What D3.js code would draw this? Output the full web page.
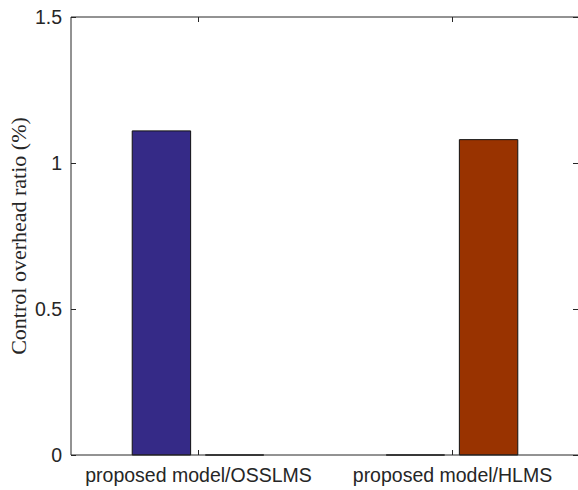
<!DOCTYPE html>
<html>
<head>
<meta charset="utf-8">
<script src="https://cdn.jsdelivr.net/npm/d3@7"></script>
<style>
  html, body { margin: 0; padding: 0; background: #fff; }
  svg { display: block; }
</style>
</head>
<body>
<svg id="chart" width="578" height="490"></svg>
<script>
// Categories and the two series (one bar per series in each group)
const categories = ["proposed model/OSSLMS", "proposed model/HLMS"];
const seriesOSSLMS = [1.11, 0];
const seriesHLMS = [0, 1.08];
const seriesColors = ["#352a87", "#993300"];
const yTicks = [0, 0.5, 1, 1.5];
const yTickLabels = ["0", "0.5", "1", "1.5"];
const yLabel = "Control overhead ratio (%)";

const svg = d3.select("#chart");
const margin = { left: 71, right: -1, top: 17, bottom: 35 };
const W = 578, H = 490;

const x = d3.scaleLinear()
  .domain([0.5, categories.length + 0.5])
  .range([margin.left, W - margin.right]);
const y = d3.scaleLinear()
  .domain([0, 1.5])
  .range([H - margin.bottom, margin.top]);

const series = [seriesOSSLMS, seriesHLMS];
const barWidth = 0.23;          // in category units
const groupOffsets = [-0.144, 0.144];

// Bars drawn as closed paths so that zero-valued bars still show their outline
series.forEach((vals, si) => {
  svg.append("g")
    .selectAll("path")
    .data(vals)
    .join("path")
    .attr("d", (d, i) => {
      const xa = x(i + 1 + groupOffsets[si] - barWidth / 2);
      const xb = x(i + 1 + groupOffsets[si] + barWidth / 2);
      return `M${xa},${y(0)}V${y(d)}H${xb}V${y(0)}Z`;
    })
    .attr("fill", seriesColors[si])
    .attr("stroke", "#111")
    .attr("stroke-width", 1);
});

const axisColor = "#262626";
const tickLen = 5;
const fontSans = "'Liberation Sans', Arial, Helvetica, sans-serif";
const tickFontSize = 19.5;

// Box lines (left, bottom, top)
const x0 = x.range()[0], x1 = x.range()[1];
const yb = y(0), yt = y(1.5);
svg.append("line").attr("x1", x0).attr("x2", x0).attr("y1", yt).attr("y2", yb)
  .attr("stroke", axisColor).attr("stroke-width", 1);
svg.append("line").attr("x1", x0).attr("x2", x1).attr("y1", yb).attr("y2", yb)
  .attr("stroke", axisColor).attr("stroke-width", 1);
svg.append("line").attr("x1", x0).attr("x2", x1).attr("y1", yt).attr("y2", yt)
  .attr("stroke", axisColor).attr("stroke-width", 1);

// Y axis: inward ticks on both sides
const yAxis = d3.axisLeft(y)
  .tickValues(yTicks)
  .tickFormat((d, i) => yTickLabels[i])
  .tickSizeInner(-tickLen)
  .tickSizeOuter(0)
  .tickPadding(9);
const gy = svg.append("g").attr("transform", `translate(${x0},0)`).call(yAxis);
gy.select(".domain").remove();
gy.selectAll(".tick line").attr("stroke", axisColor);
gy.selectAll(".tick text")
  .attr("font-family", fontSans)
  .attr("font-size", tickFontSize)
  .attr("fill", "#262626");

const yAxisR = d3.axisRight(y).tickValues(yTicks).tickSizeInner(-tickLen).tickSizeOuter(0).tickFormat("");
const gyr = svg.append("g").attr("transform", `translate(${x1 - 1},0)`).call(yAxisR);
gyr.select(".domain").remove();
gyr.selectAll(".tick line").attr("stroke", axisColor);

// X axis: category ticks inward, labels below
const xAxis = d3.axisBottom(x)
  .tickValues(categories.map((c, i) => i + 1))
  .tickFormat((d) => categories[d - 1])
  .tickSizeInner(-tickLen)
  .tickSizeOuter(0)
  .tickPadding(13);
const gx = svg.append("g").attr("transform", `translate(0,${yb})`).call(xAxis);
gx.select(".domain").remove();
gx.selectAll(".tick line").attr("stroke", axisColor);
gx.selectAll(".tick text")
  .attr("font-family", fontSans)
  .attr("font-size", tickFontSize)
  .attr("fill", "#262626");

const xAxisT = d3.axisTop(x).tickValues(categories.map((c, i) => i + 1))
  .tickSizeInner(-tickLen).tickSizeOuter(0).tickFormat("");
const gxt = svg.append("g").attr("transform", `translate(0,${yt})`).call(xAxisT);
gxt.select(".domain").remove();
gxt.selectAll(".tick line").attr("stroke", axisColor);

// Y label
svg.append("text")
  .attr("transform", `translate(26,${(yt + yb) / 2}) rotate(-90)`)
  .attr("text-anchor", "middle")
  .attr("font-family", "'Liberation Serif', 'Times New Roman', serif")
  .attr("font-size", 22)
  .attr("fill", "#262626")
  .text(yLabel);
</script>
</body>
</html>
